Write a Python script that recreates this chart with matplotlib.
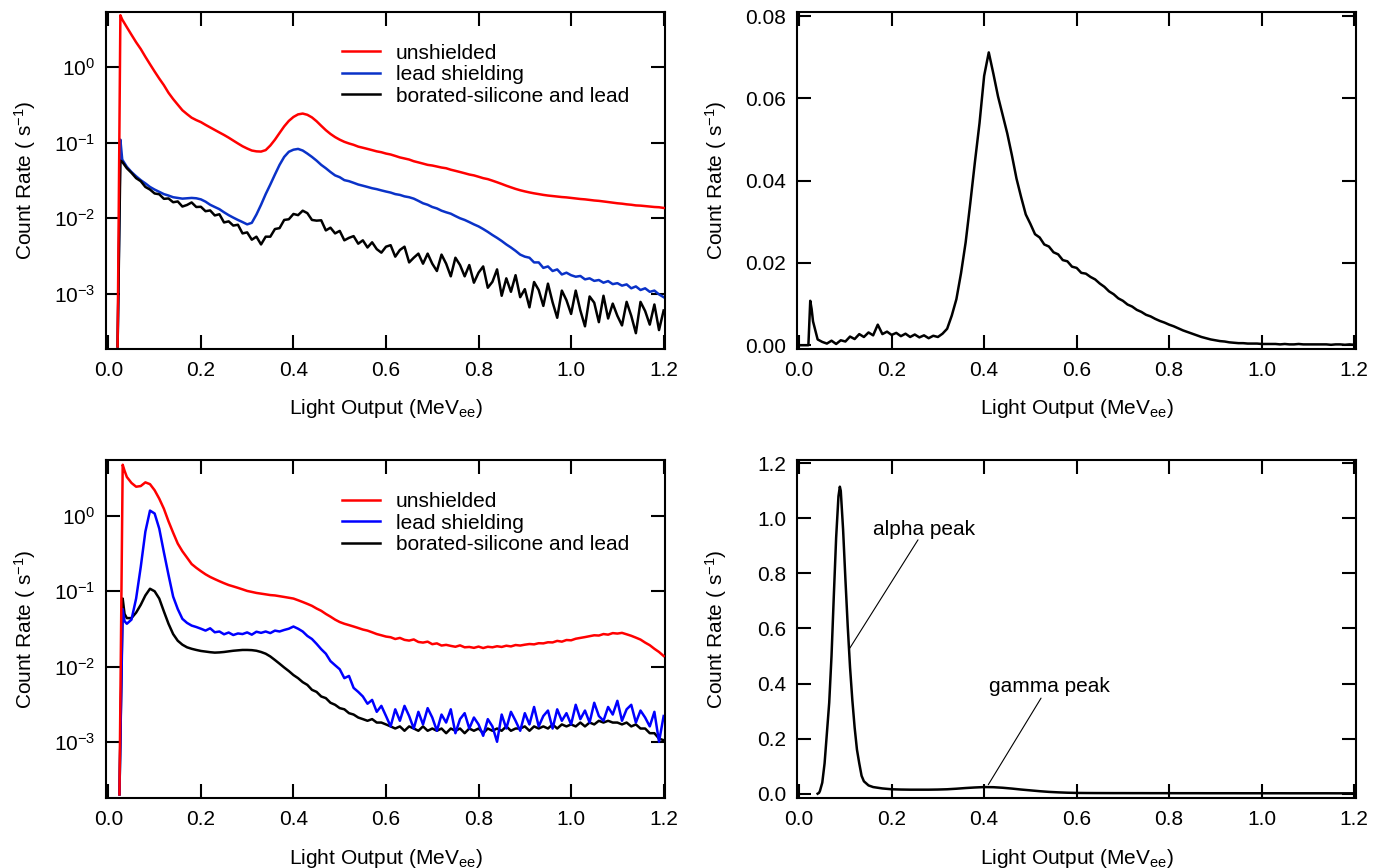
import numpy as np
import matplotlib
matplotlib.use("Agg")
import matplotlib.pyplot as plt
from matplotlib.ticker import FixedLocator, FuncFormatter, NullLocator

plt.rcParams["font.family"] = ["Liberation Sans", "DejaVu Sans"]
plt.rcParams["mathtext.default"] = "regular"

# ---------------------------------------------------------------- data
# Light output bin centres (MeVee)
energy_a = np.concatenate([[0.020, 0.026], np.arange(3, 121) / 100])
energy_b = np.concatenate([[0.024, 0.031, 0.035], np.arange(4, 121) / 100])
energy_c = np.concatenate([[0.0, 0.020, 0.024, 0.027], np.arange(3, 121) / 100])
energy_d = np.concatenate([
    [0.040, 0.043, 0.045, 0.050, 0.055, 0.060, 0.065, 0.070, 0.075, 0.080,
     0.085, 0.088, 0.090, 0.095, 0.100, 0.105, 0.110, 0.115, 0.120, 0.125,
     0.130, 0.135, 0.140, 0.150, 0.160, 0.180],
    np.arange(10, 61) / 50])

# Spectrum set A (count rate, s^-1)
a_unshielded = [
    2.0e-4, 4.9,
    4.3, 3.4, 2.7, 2.15, 1.75, 1.38, 1.10, 0.88,
    0.71, 0.58, 0.46, 0.38, 0.32, 0.27, 0.24, 0.215, 0.20, 0.188,
    0.173, 0.160, 0.148, 0.137, 0.127, 0.117, 0.107, 0.098, 0.090, 0.084,
    0.079, 0.077, 0.0765, 0.080, 0.092, 0.110, 0.135, 0.165, 0.195, 0.220,
    0.238, 0.244, 0.235, 0.217, 0.193, 0.168, 0.147, 0.131, 0.119, 0.110,
    0.103, 0.098, 0.094, 0.089, 0.086, 0.083, 0.080, 0.077, 0.075, 0.072,
    0.070, 0.067, 0.064, 0.062, 0.060, 0.057, 0.055, 0.053, 0.051, 0.050,
    0.0485, 0.047, 0.046, 0.044, 0.0425, 0.041, 0.0395, 0.038, 0.037, 0.0355,
    0.034, 0.033, 0.0315, 0.030, 0.0285, 0.027, 0.0257, 0.0245, 0.0235, 0.0227,
    0.0220, 0.0214, 0.0209, 0.0204, 0.0200, 0.0197, 0.0194, 0.0191, 0.0189, 0.0186,
    0.0183, 0.0180, 0.0178, 0.0175, 0.0172, 0.0170, 0.0167, 0.0164, 0.0161, 0.0158,
    0.0156, 0.0153, 0.0151, 0.0148, 0.0147, 0.0145, 0.0143, 0.0141, 0.0140, 0.0137]
a_lead = [
    2.0e-4, 0.110,
    0.060, 0.048, 0.041, 0.036, 0.032, 0.029, 0.026, 0.024,
    0.0224, 0.0209, 0.0200, 0.0190, 0.0186, 0.0182, 0.0184, 0.0186, 0.0184, 0.0178,
    0.0166, 0.0151, 0.0141, 0.0132, 0.0120, 0.0110, 0.0102, 0.0095, 0.0089, 0.0083,
    0.0087, 0.0112, 0.0151, 0.0209, 0.0280, 0.0380, 0.0510, 0.0650, 0.0760, 0.0810,
    0.0830, 0.0790, 0.0720, 0.0650, 0.0580, 0.0510, 0.0460, 0.0410, 0.0370, 0.0350,
    0.0320, 0.0310, 0.0295, 0.0280, 0.0270, 0.0260, 0.0250, 0.0243, 0.0234, 0.0226,
    0.0219, 0.0209, 0.0204, 0.0195, 0.0190, 0.0182, 0.0170, 0.0158, 0.0151, 0.0141,
    0.0135, 0.0126, 0.0120, 0.0115, 0.0107, 0.0100, 0.0095, 0.0089, 0.0083, 0.0078,
    0.0072, 0.0066, 0.0060, 0.0055, 0.0050, 0.0045, 0.0041, 0.0037, 0.0033, 0.0031,
    0.0030, 0.0026, 0.0026, 0.0022, 0.0023, 0.0020, 0.0021, 0.0018, 0.0019, 0.00176,
    0.00168, 0.00172, 0.00155, 0.00160, 0.00148, 0.00152, 0.00140, 0.00147, 0.00134, 0.00138,
    0.00128, 0.00133, 0.00118, 0.00125, 0.00112, 0.00118, 0.00106, 0.00110, 0.00098, 0.00090]
a_borated = [
    2.0e-4, 0.058,
    0.056, 0.046, 0.040, 0.034, 0.031, 0.026, 0.024, 0.0213,
    0.0208, 0.0181, 0.0183, 0.0163, 0.0167, 0.0143, 0.0150, 0.0162, 0.0141, 0.0142,
    0.0124, 0.0127, 0.0109, 0.0113, 0.0088, 0.0091, 0.0080, 0.0082, 0.0063, 0.0065,
    0.0052, 0.0057, 0.0045, 0.0057, 0.0057, 0.0072, 0.0074, 0.0095, 0.0097, 0.0114,
    0.0110, 0.0126, 0.0117, 0.0095, 0.0093, 0.0094, 0.0069, 0.0075, 0.0063, 0.0068,
    0.0051, 0.0055, 0.0058, 0.0046, 0.0051, 0.0041, 0.0048, 0.0039, 0.0035, 0.0042,
    0.0044, 0.0031, 0.0038, 0.0042, 0.0026, 0.0030, 0.0034, 0.0025, 0.0034, 0.0025,
    0.0020, 0.0033, 0.0025, 0.0017, 0.0030, 0.0024, 0.0017, 0.0024, 0.0014, 0.0019,
    0.0023, 0.0012, 0.00144, 0.0021, 0.00094, 0.0016, 0.00106, 0.00176, 0.0009, 0.00115,
    0.00066, 0.00143, 0.00112, 0.00069, 0.00136, 0.00077, 0.00048, 0.0011, 0.00082, 0.00054,
    0.0011, 0.0006, 0.00037, 0.00092, 0.00076, 0.00042, 0.00094, 0.00047, 0.00074, 0.00051,
    0.00038, 0.00078, 0.00051, 0.0003, 0.00078, 0.00059, 0.00039, 0.00072, 0.00033, 0.0006]

# Spectrum set B (count rate, s^-1)
b_unshielded = [
    2.0e-4, 4.8, 4.0,
    3.3, 2.75, 2.45, 2.5, 2.8, 2.65, 2.2,
    1.7, 1.25, 0.85, 0.60, 0.43, 0.34, 0.28, 0.23, 0.205, 0.185,
    0.168, 0.155, 0.145, 0.136, 0.128, 0.121, 0.116, 0.111, 0.106, 0.101,
    0.098, 0.095, 0.093, 0.091, 0.089, 0.088, 0.086, 0.084, 0.082, 0.080,
    0.076, 0.072, 0.068, 0.064, 0.059, 0.055, 0.050, 0.046, 0.042, 0.039,
    0.037, 0.0355, 0.034, 0.0325, 0.031, 0.030, 0.0285, 0.027, 0.026, 0.025,
    0.0245, 0.0232, 0.0240, 0.0226, 0.0221, 0.0229, 0.0212, 0.0208, 0.0214, 0.0198,
    0.0203, 0.0190, 0.0194, 0.0188, 0.0183, 0.0191, 0.0180, 0.0182, 0.0177, 0.0184,
    0.0176, 0.0183, 0.0180, 0.0186, 0.0182, 0.0189, 0.0185, 0.0193, 0.0190, 0.0195,
    0.0199, 0.0197, 0.0204, 0.0203, 0.0210, 0.0209, 0.0219, 0.0214, 0.0225, 0.0223,
    0.0234, 0.0240, 0.0246, 0.0253, 0.0260, 0.0258, 0.0270, 0.0265, 0.0278, 0.0274,
    0.0280, 0.0268, 0.0256, 0.0242, 0.0228, 0.0208, 0.0192, 0.0172, 0.0156, 0.0138]
b_lead = [
    2.0e-4, 0.058, 0.040,
    0.037, 0.042, 0.080, 0.210, 0.620, 1.18, 1.08,
    0.68, 0.33, 0.165, 0.085, 0.058, 0.043, 0.038, 0.035, 0.0335, 0.0318,
    0.0300, 0.0322, 0.0285, 0.0292, 0.0268, 0.0283, 0.0262, 0.0275, 0.0270, 0.0284,
    0.0265, 0.0290, 0.0280, 0.0292, 0.0278, 0.0300, 0.0292, 0.0306, 0.0318, 0.0340,
    0.0318, 0.0292, 0.0255, 0.0232, 0.0200, 0.0170, 0.0148, 0.0118, 0.0104, 0.0092,
    0.0070, 0.0075, 0.0052, 0.0046, 0.0040, 0.0032, 0.0036, 0.0025, 0.0030, 0.0022,
    0.0016, 0.0027, 0.0019, 0.0030, 0.0022, 0.0015, 0.0025, 0.0017, 0.0028, 0.0021,
    0.0014, 0.0023, 0.0018, 0.0027, 0.0013, 0.0020, 0.0024, 0.0015, 0.0021, 0.0017,
    0.0012, 0.0020, 0.0016, 0.0010, 0.0023, 0.0015, 0.0025, 0.0019, 0.0014, 0.0024,
    0.0017, 0.0029, 0.0016, 0.0022, 0.0026, 0.0015, 0.0027, 0.0019, 0.0024, 0.0017,
    0.0031, 0.0020, 0.0026, 0.0018, 0.0033, 0.0022, 0.0019, 0.0029, 0.0023, 0.0035,
    0.0019, 0.0027, 0.0031, 0.0018, 0.0026, 0.0021, 0.0016, 0.0025, 0.0010, 0.0022]
b_borated = [
    2.0e-4, 0.080, 0.050,
    0.044, 0.044, 0.052, 0.066, 0.088, 0.108, 0.100,
    0.080, 0.054, 0.037, 0.027, 0.022, 0.0195, 0.018, 0.0172, 0.0166, 0.0161,
    0.0158, 0.0155, 0.0153, 0.0154, 0.0156, 0.0159, 0.0162, 0.0164, 0.0166, 0.0166,
    0.0165, 0.0162, 0.0156, 0.0148, 0.0136, 0.0122, 0.0109, 0.0097, 0.0087, 0.0077,
    0.0070, 0.0062, 0.0057, 0.0049, 0.0046, 0.0040, 0.0038, 0.0033, 0.0031, 0.0028,
    0.0027, 0.0024, 0.0023, 0.0021, 0.0020, 0.0019, 0.0020, 0.0018, 0.0018, 0.0017,
    0.0016, 0.0015, 0.0016, 0.0014, 0.0016, 0.0015, 0.0014, 0.0016, 0.0014, 0.0015,
    0.0014, 0.0015, 0.0013, 0.0015, 0.0014, 0.0015, 0.0013, 0.0015, 0.0014, 0.0015,
    0.0013, 0.0015, 0.0014, 0.0015, 0.0014, 0.0016, 0.0014, 0.0015, 0.0015, 0.0016,
    0.0014, 0.0016, 0.0015, 0.0016, 0.0015, 0.0017, 0.0015, 0.0017, 0.0016, 0.0017,
    0.0016, 0.0018, 0.0016, 0.0018, 0.0017, 0.0019, 0.0018, 0.0019, 0.0018, 0.0018,
    0.0017, 0.0018, 0.0016, 0.0017, 0.0015, 0.0015, 0.0013, 0.0013, 0.0011, 0.00105]

# Net spectrum (linear scale)
c_net = [
    0.0, 0.0, 0.0108, 0.0088,
    0.0058, 0.0014, 0.0008, 0.0004, 0.0011, 0.0003, 0.0012, 0.0009,
    0.0021, 0.0015, 0.0027, 0.0020, 0.0031, 0.0024, 0.0050, 0.0027, 0.0033, 0.0025,
    0.0030, 0.0022, 0.0028, 0.0020, 0.0026, 0.0019, 0.0024, 0.0017, 0.0023, 0.0020,
    0.0028, 0.0040, 0.0072, 0.0112, 0.0175, 0.0250, 0.0345, 0.0445, 0.0540, 0.0655,
    0.0712, 0.0660, 0.0605, 0.0560, 0.0515, 0.0462, 0.0405, 0.0360, 0.0318, 0.0295,
    0.0270, 0.0262, 0.0245, 0.0240, 0.0226, 0.0221, 0.0207, 0.0204, 0.0191, 0.0188,
    0.0176, 0.0174, 0.0166, 0.0160, 0.0150, 0.0142, 0.0131, 0.0124, 0.0114, 0.0108,
    0.0099, 0.0094, 0.0086, 0.0081, 0.0074, 0.0070, 0.0064, 0.0059, 0.0055, 0.0050,
    0.0046, 0.0041, 0.0036, 0.0032, 0.0028, 0.0024, 0.0020, 0.0017, 0.0014, 0.0012,
    0.0010, 0.0009, 0.0007, 0.0006, 0.0005, 0.0005, 0.0004, 0.0004, 0.0004, 0.0003,
    0.0003, 0.0003, 0.0003, 0.0002, 0.0003, 0.0002, 0.0002, 0.0003, 0.0002, 0.0002,
    0.0002, 0.0002, 0.0002, 0.0002, 0.0001, 0.0002, 0.0002, 0.0001, 0.0002, 0.0001]

# Alpha / gamma spectrum (linear scale)
d_rate = [
    0.0, 0.003, 0.010, 0.040, 0.11, 0.22, 0.33, 0.50, 0.72, 0.93,
    1.08, 1.115, 1.10, 0.96, 0.78, 0.61, 0.46, 0.34, 0.24, 0.16,
    0.11, 0.065, 0.045, 0.030, 0.024, 0.019,
    0.016, 0.015, 0.0145, 0.0145, 0.0145, 0.015, 0.016, 0.018, 0.0205, 0.0225,
    0.024, 0.0235, 0.0215, 0.0185, 0.015, 0.012, 0.009, 0.0065, 0.0048, 0.0035,
    0.0027, 0.0024, 0.0022, 0.0021, 0.0020, 0.0020, 0.0019, 0.0019, 0.0018, 0.0018,
    0.0018, 0.0017, 0.0017, 0.0017, 0.0016, 0.0016, 0.0016, 0.0016, 0.0015, 0.0015,
    0.0015, 0.0015, 0.0015, 0.0014, 0.0014, 0.0014, 0.0014, 0.0014, 0.0013, 0.0013,
    0.0013]

series_names = ["unshielded", "lead shielding", "borated-silicone and lead"]
x_ticks = [0.0, 0.2, 0.4, 0.6, 0.8, 1.0, 1.2]
log_ticks = [1e-3, 1e-2, 1e-1, 1e0]
net_ticks = [0.0, 0.02, 0.04, 0.06, 0.08]
peak_ticks = [0.0, 0.2, 0.4, 0.6, 0.8, 1.0, 1.2]

# ---------------------------------------------------------------- figure
FS = 15
fig = plt.figure(figsize=(13.91, 8.68), dpi=100)
ax_a = fig.add_axes([0.07656, 0.5985, 0.40187, 0.38802])
ax_c = fig.add_axes([0.57318, 0.5985, 0.40165, 0.38802])
ax_b = fig.add_axes([0.07656, 0.08065, 0.40187, 0.3894])
ax_d = fig.add_axes([0.57318, 0.08065, 0.40165, 0.3894])

xlabel = r"Light Output (MeV$_{ee}$)"
ylabel = r"Count Rate ( s$^{-1}$)"


def style(ax):
    for sp in ax.spines.values():
        sp.set_linewidth(1.5)
    ax.set_xlim(-0.004, 1.204)
    ax.xaxis.set_major_locator(FixedLocator(x_ticks))
    ax.xaxis.set_major_formatter(FuncFormatter(lambda v, p: f"{v:.1f}"))
    ax.xaxis.set_minor_locator(NullLocator())
    ax.yaxis.set_minor_locator(NullLocator())
    ax.tick_params(which="major", direction="in", length=10, width=1.5,
                   top=True, right=True, labelsize=FS)
    ax.tick_params(axis="x", pad=9)
    ax.tick_params(axis="y", pad=8)
    ax.set_xlabel(xlabel, fontsize=FS)
    ax.set_ylabel(ylabel, fontsize=FS)
    ax.xaxis.set_label_coords(0.5, -0.145)
    ax.yaxis.set_label_coords(-0.123, 0.5)


def log_axis(ax, lo, hi):
    ax.set_yscale("log")
    ax.set_ylim(lo, hi)
    ax.yaxis.set_major_locator(FixedLocator(log_ticks))
    ax.yaxis.set_major_formatter(
        FuncFormatter(lambda v, p: r"$10^{%d}$" % int(round(np.log10(v)))))
    ax.yaxis.set_minor_locator(NullLocator())


LW = 1.8
# set A
ax_a.plot(energy_a, a_unshielded, color="#ff0000", lw=LW, label=series_names[0], zorder=3)
ax_a.plot(energy_a, a_lead, color="#0a32c8", lw=LW, label=series_names[1], zorder=2)
ax_a.plot(energy_a, a_borated, color="black", lw=LW, label=series_names[2], zorder=2.5)
style(ax_a)
log_axis(ax_a, 1.88e-4, 5.46)

# set B
ax_b.plot(energy_b, b_unshielded, color="#ff0000", lw=LW, label=series_names[0], zorder=3)
ax_b.plot(energy_b, b_lead, color="#0000ff", lw=LW, label=series_names[1], zorder=2.5)
ax_b.plot(energy_b, b_borated, color="black", lw=LW, label=series_names[2], zorder=2)
style(ax_b)
log_axis(ax_b, 1.79e-4, 5.55)

for ax in (ax_a, ax_b):
    h, l = ax.get_legend_handles_labels()
    ax.legend(h, l, loc="upper left", bbox_to_anchor=(0.421, 0.905),
              frameon=False, fontsize=FS, handlelength=1.85,
              handletextpad=0.75, labelspacing=0.12, borderpad=0,
              borderaxespad=0)

# net spectrum
ax_c.plot(energy_c, c_net, color="black", lw=LW)
style(ax_c)
ax_c.set_ylim(-0.0008, 0.0811)
ax_c.yaxis.set_major_locator(FixedLocator(net_ticks))
ax_c.yaxis.set_major_formatter(FuncFormatter(lambda v, p: f"{v:.2f}"))

# alpha / gamma spectrum
ax_d.plot(energy_d, d_rate, color="black", lw=LW)
style(ax_d)
ax_d.set_ylim(-0.0157, 1.212)
ax_d.yaxis.set_major_locator(FixedLocator(peak_ticks))
ax_d.yaxis.set_major_formatter(FuncFormatter(lambda v, p: f"{v:.1f}"))

ax_d.annotate("", xy=(0.1097, 0.529), xytext=(0.257, 0.922),
              arrowprops=dict(arrowstyle="-", lw=0.8, color="black",
                              shrinkA=0, shrinkB=0))
ax_d.text(0.271, 0.958, "alpha peak", fontsize=FS, ha="center", va="center")
ax_d.annotate("", xy=(0.409, 0.0327), xytext=(0.523, 0.347),
              arrowprops=dict(arrowstyle="-", lw=0.8, color="black",
                              shrinkA=0, shrinkB=0))
ax_d.text(0.542, 0.3895, "gamma peak", fontsize=FS, ha="center", va="center")

fig.savefig("out.png", dpi=100)
